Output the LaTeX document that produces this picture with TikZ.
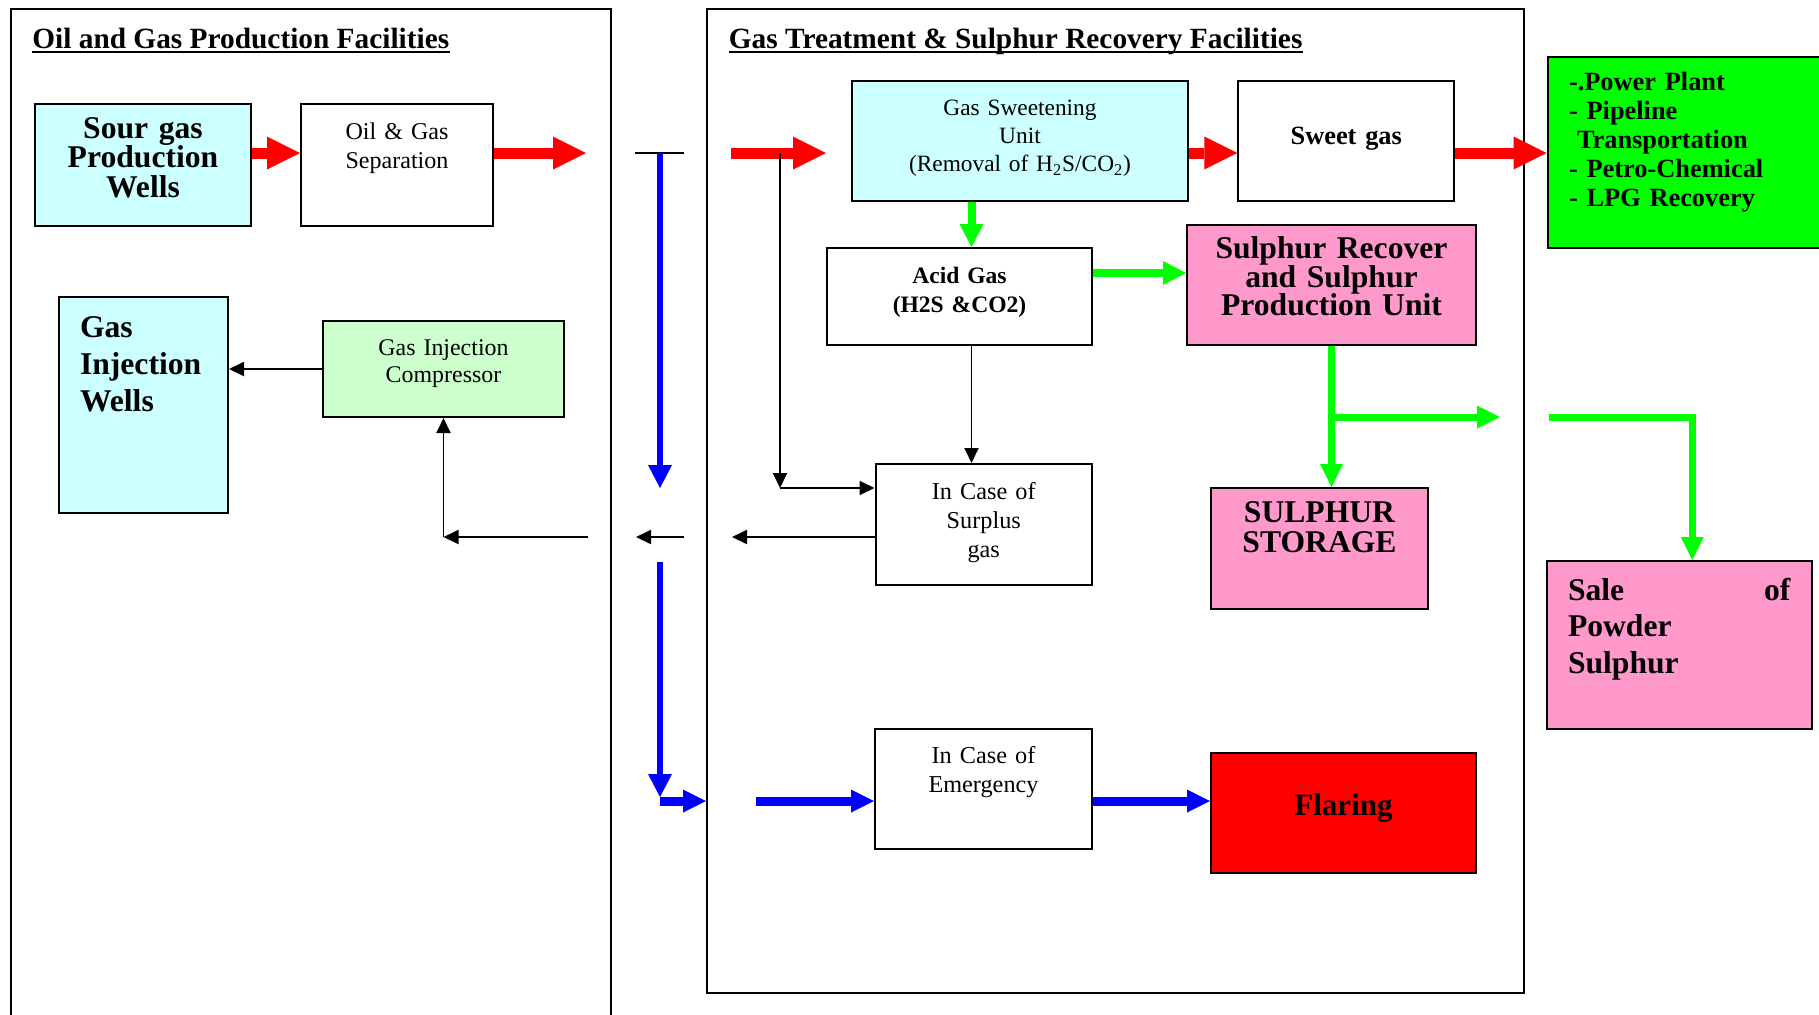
\documentclass[tikz,border=0pt]{standalone}
\usepackage{fontspec}
\setmainfont{Liberation Serif}
\usetikzlibrary{arrows.meta,positioning}

\definecolor{wellcyan}{HTML}{CCFFFF}
\definecolor{compgreen}{HTML}{CCFFCC}
\definecolor{sulpink}{HTML}{FF99CC}
\definecolor{usegreen}{HTML}{00FF00}
\definecolor{flowgreen}{HTML}{00FF00}
\definecolor{flowblue}{HTML}{0000FF}
\definecolor{flowred}{HTML}{FF0000}

\begin{document}
\begin{tikzpicture}[x=0.2mm,y=-0.2mm,
    box/.style={draw,line width=0.4mm,inner sep=0pt,text height=6.8mm,align=center},
    bigtext/.style={font=\fontsize{18}{16.5}\selectfont\bfseries},
    midtext/.style={font=\fontsize{15}{16.6}\selectfont\bfseries},
    plaintext/.style={font=\fontsize{13.7}{16.5}\selectfont},
    heading/.style={font=\fontsize{16.7}{20}\selectfont\bfseries,inner sep=0pt,anchor=base west},
    zone/.style={line width=0.35mm},
    flow/.style={-{Triangle[length=3mm,width=2.8mm]},line width=0.38mm},
    redflow/.style={-{Triangle[length=6.6mm,width=6.6mm,line width=0pt]},draw=flowred,line width=2.2mm},
    greenflow/.style={-{Triangle[length=4.6mm,width=4.8mm,line width=0pt]},draw=flowgreen,line width=1.6mm},
    greenline/.style={-{Triangle[length=4.6mm,width=4.6mm,line width=0pt]},draw=flowgreen,line width=1.4mm},
    blueflow/.style={-{Triangle[length=4.6mm,width=4.8mm,line width=0pt]},draw=flowblue,line width=1.1mm},
    bluewide/.style={-{Triangle[length=4.6mm,width=4.6mm,line width=0pt]},draw=flowblue,line width=1.8mm}]

  \useasboundingbox (0,0) rectangle (1819,1014);

  % the two plant areas
  \draw[zone] (10.7,1030) |- (611,9) -- (611,1030);
  \draw[zone] (707,9) rectangle (1524,993);

  \node[heading] (ttlL) at (32,48)    {Oil and Gas Production Facilities};
  \node[heading] (ttlR) at (728.5,48) {Gas Treatment \& Sulphur Recovery Facilities};
  \draw[line width=0.4mm] ([yshift=-0.8mm]ttlL.base west) -- ([yshift=-0.8mm]ttlL.base east);
  \draw[line width=0.4mm] ([yshift=-0.8mm]ttlR.base west) -- ([yshift=-0.8mm]ttlR.base east);

  % oil and gas side
  \node[box,fill=wellcyan,text width=43.2mm,text depth=17.6mm,
        font=\fontsize{18}{16.8}\selectfont\bfseries] (sour) at (143,165) {Sour gas\\Production\\Wells};
  \node[box,plaintext,text width=38.4mm,text height=7mm,text depth=17.4mm,
        right=9.6mm of sour] (sep) {Oil \& Gas\\Separation};
  \node[box,fill=wellcyan,align=left,text width=25.4mm,inner xsep=4.2mm,text height=8mm,text depth=35.2mm,
        font=\fontsize{18}{21.3}\selectfont\bfseries] (inj) at (143.5,405) {Gas\\Injection\\Wells};
  \node[box,fill=compgreen,text width=48.2mm,text depth=12.4mm,
        font=\fontsize{13.6}{15.9}\selectfont] (comp) at (443.5,369) {Gas Injection\\Compressor};

  % treatment side
  \node[box,fill=wellcyan,text width=67.3mm,text depth=17.2mm,
        font=\fontsize{13.3}{16.2}\selectfont] (sweet) at (1020,141)
        {Gas Sweetening\\Unit\\(Removal of H\textsubscript{2}S/CO\textsubscript{2})};
  \node[box,midtext,text width=43.2mm,text height=12.6mm,text depth=11.4mm,
        right=9.6mm of sweet] (sweetgas) {Sweet gas};
  \node[box,midtext,fill=usegreen,align=left,text width=48.4mm,inner xsep=4.3mm,text height=6.6mm,
        text depth=31.6mm] (users) at (1690,152.5)
        {-.Power Plant\\- Pipeline\\\hspace*{1.6mm}Transportation\\- Petro-Chemical\\- LPG Recovery};
  \node[box,text width=53mm,text height=7mm,text depth=12.4mm,
        font=\fontsize{13.4}{16.5}\selectfont\bfseries] (acid) at (959.5,296.5) {Acid Gas\\(H2S \&CO2)};
  \node[box,bigtext,fill=sulpink,text width=57.8mm,text height=6.6mm,text depth=17.4mm]
        (srp) at (1331.5,285) {Sulphur Recover\\and Sulphur\\Production Unit};
  \node[box,font=\fontsize{13.8}{16.5}\selectfont,text width=43.3mm,text height=7mm,text depth=17.2mm]
        (surplus) at (983.75,524.5) {In Case of\\Surplus\\gas};
  \node[box,fill=sulpink,font=\fontsize{18}{17.1}\selectfont\bfseries,text width=43.4mm,text depth=17.4mm]
        (storage) at (1319.5,548.5) {SULPHUR\\STORAGE};
  \node[box,fill=sulpink,align=left,text width=44.5mm,inner xsep=4.2mm,text height=7.8mm,text depth=25.8mm,
        font=\fontsize{18}{20.8}\selectfont\bfseries] (sale) at (1679.25,645) {Sale\hfill of\\Powder\\Sulphur};
  \node[box,font=\fontsize{13.8}{16.5}\selectfont,text width=43.4mm,text depth=17.2mm]
        (emerg) at (983.5,789) {In Case of\\Emergency};
  \node[box,fill=flowred,font=\fontsize{17.7}{20}\selectfont\bfseries,text width=53mm,
        text height=12.4mm,text depth=11.6mm] (flare) at (1343.5,813) {Flaring};

  \coordinate (gapL)    at (586,153);
  \coordinate (gapR)    at (731,153);
  \coordinate (sweetIn) at (826,153);
  \coordinate (tap)     at (780,153);
  \coordinate (pipeTop) at (660,153);
  \coordinate (pipeMid) at (660,488);
  \coordinate (pipeLow) at (660,562);
  \coordinate (pipeEnd) at (660,797);
  \coordinate (hook)    at (706,801);
  \coordinate (flareGo) at (755.5,801);
  \coordinate (backR)   at (732,537);
  \coordinate (backM1)  at (684,537);
  \coordinate (backM2)  at (636,537);
  \coordinate (backL)   at (588,537);
  \coordinate (branch)  at (1500,417);
  \coordinate (saleGo)  at (1549,417);
  \coordinate (agUp)    at ([xshift=2.4mm]acid.north);
  \coordinate (agDown)  at ([xshift=2.4mm]acid.south);
  \coordinate (agOut)   at ([yshift=4.7mm]acid.east);
  \coordinate (saleIn)  at ([xshift=2.6mm]sale.north);

  % sour gas route
  \draw[redflow] (sour.east |- gapL) -- (sep.west |- gapL);
  \draw[redflow] (sep.east |- gapL) -- (gapL);
  \draw[redflow] (gapR) -- (sweetIn);
  \draw[redflow] (sweet.east |- gapR) -- (sweetgas.west |- gapR);
  \draw[redflow] (sweetgas.east |- gapR) -- (users.west |- gapR);

  % bypass / flare line
  \draw[line width=0.38mm] ([xshift=-5mm]pipeTop) -- ([xshift=4.8mm]pipeTop);
  \draw[blueflow] (pipeTop) -- (pipeMid);
  \draw[blueflow] (pipeLow) -- (pipeEnd);
  \draw[bluewide] (pipeEnd |- hook) -- (hook);
  \draw[bluewide] (flareGo) -- (emerg.west |- flareGo);
  \draw[bluewide] (emerg.east |- flareGo) -- (flare.west |- flareGo);

  % surplus gas back to injection
  \draw[flow] (tap) -- (tap |- pipeMid);
  \draw[flow] (tap |- pipeMid) -- (surplus.west |- pipeMid);
  \draw[flow] (agDown) -- (agDown |- surplus.north);
  \draw[flow] (surplus.west |- backR) -- (backR);
  \draw[flow] (backM1) -- (backM2);
  \draw[flow] (backL) -- (comp.south |- backL);
  \draw[flow] (comp.south |- backL) -- (comp.south);
  \draw[flow] (comp.west) -- (inj.east |- comp.west);

  % acid gas and sulphur
  \draw[greenflow] (agUp |- sweet.south) -- (agUp);
  \draw[greenflow] (agOut) -- (srp.west |- agOut);
  \draw[greenline] (srp.south) -- (srp.south |- storage.north);
  \draw[greenline] (srp.south |- branch) -- (branch);
  \draw[greenline] (saleGo) -- (saleIn |- saleGo) -- (saleIn);
\end{tikzpicture}
\end{document}
